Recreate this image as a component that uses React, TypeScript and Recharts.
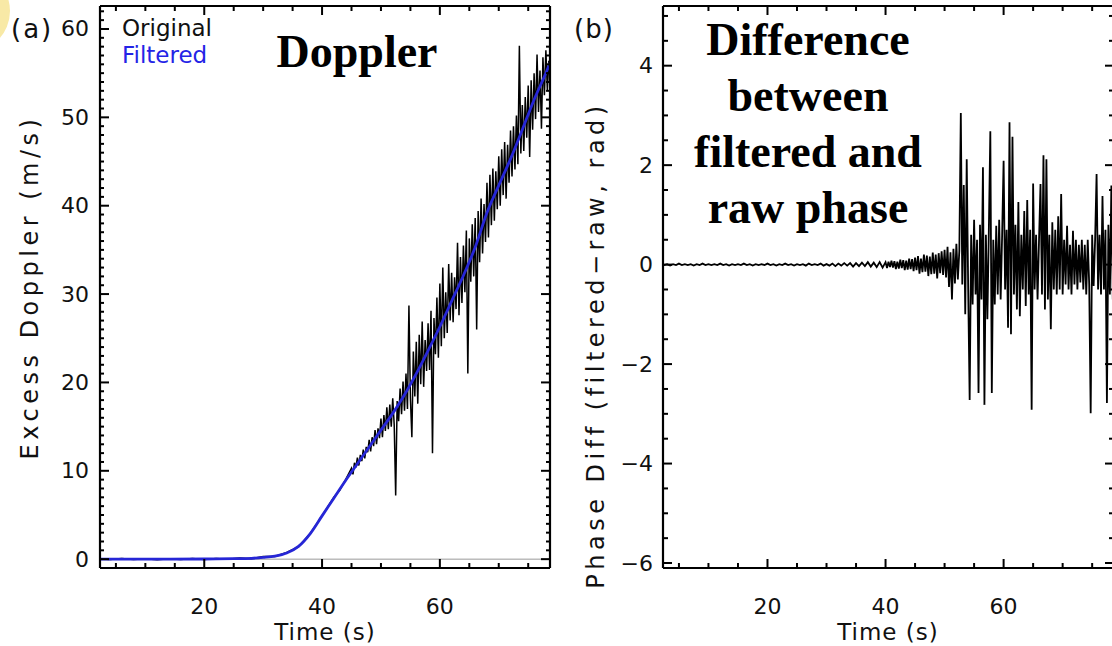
import React from 'react';
import { LineChart, Line, XAxis, YAxis, ReferenceLine } from 'recharts';

const SANS = '"DejaVu Sans", Verdana, sans-serif';
const SERIF = '"Liberation Serif", "Times New Roman", serif';

// ---------- ticks ----------
const timeTicks = [5, 10, 15, 20, 25, 30, 35, 40, 45, 50, 55, 60, 65, 70, 75];
const timeLabels = [20, 40, 60];
const dopplerTicks = [
  0, 1, 2, 3, 4, 5, 6, 7, 8, 9, 10, 11, 12, 13, 14, 15, 16, 17, 18, 19, 20,
  21, 22, 23, 24, 25, 26, 27, 28, 29, 30, 31, 32, 33, 34, 35, 36, 37, 38, 39, 40,
  41, 42, 43, 44, 45, 46, 47, 48, 49, 50, 51, 52, 53, 54, 55, 56, 57, 58, 59, 60, 61, 62,
];
const dopplerLabels = [0, 10, 20, 30, 40, 50, 60];
const phaseTicks = [
  -6, -5.5, -5, -4.5, -4, -3.5, -3, -2.5, -2, -1.5, -1, -0.5, 0,
  0.5, 1, 1.5, 2, 2.5, 3, 3.5, 4, 4.5, 5,
];
const phaseLabels = [-6, -4, -2, 0, 2, 4];

// ---------- panel (a): Doppler ----------
const filteredTime = [2, 10, 20, 25, 28, 30, 32, 34, 36, 38, 40, 42, 44, 46, 48, 50, 52, 54, 56, 58, 60, 62, 64, 66, 68, 70, 72, 74, 76, 78, 79];
const filteredDoppler = [0, 0, 0.02, 0.05, 0.1, 0.2, 0.35, 0.7, 1.45, 2.9, 4.9, 6.9, 8.9, 10.8, 12.7, 14.6, 16.5, 18.6, 21.0, 23.6, 26.3, 29.2, 32.1, 35.3, 39.2, 42.3, 45.3, 48.6, 52.0, 55.0, 56.6];

const originalEarlyTime = [2, 4, 6, 8, 10, 12, 14, 16, 18, 20, 22, 24, 26, 28, 30, 32, 34, 36, 38, 40, 42, 43, 44];
const originalEarlyDoppler = [0.05, -0.05, 0.08, -0.04, 0.06, -0.07, 0.05, -0.05, 0.07, -0.04, 0.08, 0.0, 0.12, 0.05, 0.3, 0.3, 0.75, 1.4, 2.9, 4.9, 7.0, 7.8, 9.0];

const originalFineStart = 45;
const fineStep = 0.25;
const originalFineDoppler = [
  10.3, 9.6, 10.9, 10.4,
  11.5, 10.6, 11.8, 11.1,
  12.4, 11.4, 12.7, 12.1,
  13.5, 12.2, 13.8, 12.8,
  14.6, 13.0, 14.8, 13.7,
  15.9, 13.8, 16.3, 14.5,
  17.2, 14.7, 17.5, 15.0,
  18.2, 15.2, 7.2, 17.9,
  15.6, 19.3, 16.4, 20.1,
  16.8, 21.0, 17.0, 28.7,
  18.2, 13.8, 23.5, 18.4,
  24.6, 17.6, 25.4, 19.8,
  26.9, 19.5, 24.8, 21.3,
  26.7, 21.4, 28.1, 12.0,
  27.3, 23.2, 29.6, 22.8,
  31.2, 24.1, 33.0, 25.0,
  30.2, 25.6, 33.4, 27.0,
  32.4, 26.8, 31.9, 28.3,
  35.8, 27.6, 34.2, 29.0,
  35.5, 30.2, 37.2, 21.0,
  36.3, 31.4, 37.9, 32.0,
  38.6, 26.0, 39.4, 33.6,
  40.8, 34.6, 40.2, 35.9,
  42.6, 36.4, 43.5, 37.8,
  44.2, 38.3, 43.9, 39.6,
  45.6, 40.0, 46.4, 41.2,
  47.2, 40.8, 46.9, 42.6,
  48.5, 43.3, 49.0, 44.1,
  50.2, 44.7, 58.1, 45.9,
  51.4, 46.2, 52.3, 47.7,
  53.6, 45.5, 54.2, 48.6,
  55.0, 49.8, 57.1, 50.6,
  55.3, 48.7, 56.8, 52.5,
  57.6, 53.1, 56.4, 55.8,
];

// ---------- panel (b): phase difference ----------
const phaseCoarseStart = 2;
const phaseCoarseStep = 0.5;
const phaseCoarse = [
  0.01, -0.01, 0.01, -0.02, 0.01, -0.01, 0.02, -0.01, 0.01, -0.01, 0.01, -0.02, 0.01, -0.01, 0.02, -0.01, 0.01,
  -0.01, 0.01, -0.01, 0.02, -0.01, 0.01, -0.02, 0.01, -0.01, 0.01, -0.01, 0.02, -0.01, 0.01, -0.02, 0.01, -0.01, 0.01, -0.01, 0.02,
  -0.01, 0.01, -0.02, 0.01, -0.01, 0.02, -0.01, 0.01, -0.02, 0.01, -0.01, 0.01, -0.02, 0.02, -0.01, 0.01, -0.01, 0.02, -0.02, 0.01,
  -0.02, 0.02, -0.03, 0.02, -0.02, 0.03, -0.02, 0.03, -0.04, 0.03, -0.03, 0.04, -0.03, 0.05, -0.04, 0.04, -0.05, 0.05, -0.06,
];
const phaseFineStart = 40;
const phaseFine = [
  0.05, -0.07, 0.06, -0.05, 0.08, -0.06, 0.07, -0.09, 0.06, -0.08, 0.1, -0.07, 0.09, -0.11, 0.08, -0.1, 0.12, -0.09, 0.11, -0.13,
  0.14, -0.11, 0.17, -0.18, 0.12, -0.15, 0.2, -0.14, 0.18, -0.23, 0.16, -0.19, 0.24, -0.18, 0.2, -0.28, 0.23, -0.17, 0.27, -0.21,
  0.3, -0.26, 0.36, -0.45, 0.25, -0.7, 0.32, -0.38, 0.42, -0.3, 0.28,
  3.05, -0.4, 1.6, -1.0,
  2.12, -0.5, -2.72, 0.6,
  -0.8, 0.9, -0.6, 0.5,
  -2.58, 0.8, -0.7, 1.96,
  -2.82, 0.6, -1.1, 0.7,
  2.68, -2.58, 0.5, -0.8,
  0.78, -0.6, 0.9, -0.7,
  0.6, 2.09, -0.5, 0.7,
  -1.27, 2.86, -1.4, 2.57,
  -0.6, 0.8, -0.9, 1.26,
  -1.04, 0.6, -0.5, 1.08,
  -0.83, 1.3, -0.6, 0.7,
  -2.92, 1.63, -0.5, 0.6,
  -0.7, 0.5, 1.62, -0.6,
  2.2, -0.9, 2.12, -0.7,
  0.6, -1.3, 0.85, -0.5,
  0.7, -0.6, 0.97, -0.5,
  1.42, -0.6, 0.5, -0.4,
  0.78, -0.5, 0.4, -0.6,
  0.68, -0.4, 0.5, -0.5,
  0.4, -0.36, 0.5, -0.5,
  0.4, -0.6, 0.5, -0.4,
  -2.99, 0.6, -0.43, 0.5,
  1.82, -0.5, 0.6, -0.6,
  1.38, -0.5, 0.7, -2.78,
  0.8, -0.6, 1.59, -0.7,
  0.9,
];

// ---------- assembled series ----------
const filteredData = filteredTime.map((t, i) => ({ t, v: filteredDoppler[i] }));
const originalData = [
  ...originalEarlyTime.map((t, i) => ({ t, v: originalEarlyDoppler[i] })),
  ...originalFineDoppler.map((v, i) => ({ t: originalFineStart + i * fineStep, v })),
];
const phaseData = [
  ...phaseCoarse.map((v, i) => ({ t: phaseCoarseStart + i * phaseCoarseStep, v })),
  ...phaseFine.map((v, i) => ({ t: phaseFineStart + i * fineStep, v })),
];

const TIME_DOMAIN: [number, number] = [2.3, 78.7];
const DOPPLER_DOMAIN: [number, number] = [-1, 62.6];
const PHASE_DOMAIN: [number, number] = [-6.1, 5.2];

const fmt = (v: number) => String(v).replace('-', '\u2212');
const isIn = (arr: number[], v: number) => arr.some((a) => Math.abs(a - v) < 1e-9);

function makeTick(side: string, labels: number[], majorLen: number, minorLen: number, showLabels: boolean, gap = 11) {
  return (props: any) => {
    const { x, y, payload } = props;
    const v = payload.value;
    const major = isIn(labels, v);
    const len = major ? majorLen : minorLen;
    let x2 = x;
    let y2 = y;
    if (side === 'bottom') y2 = y - len;
    if (side === 'top') y2 = y + len;
    if (side === 'left') x2 = x + len;
    if (side === 'right') x2 = x - len;
    let label = null;
    if (showLabels && major) {
      if (side === 'bottom') {
        label = (
          <text x={x} y={y + 38} textAnchor="middle" dominantBaseline="central" fontSize={22} fontFamily={SANS} fill="#111">
            {fmt(v)}
          </text>
        );
      } else if (side === 'left') {
        label = (
          <text x={x - gap} y={y} textAnchor="end" dominantBaseline="central" fontSize={22} fontFamily={SANS} fill="#111">
            {fmt(v)}
          </text>
        );
      }
    }
    return (
      <g>
        <line x1={x} y1={y} x2={x2} y2={y2} stroke="#000" strokeWidth={2} />
        {label}
      </g>
    );
  };
}

const axisLine = { stroke: '#000', strokeWidth: 2.2 };

function txt(style: React.CSSProperties, content: React.ReactNode) {
  return <div style={{ position: 'absolute', whiteSpace: 'nowrap', lineHeight: 1, ...style }}>{content}</div>;
}

export default function App() {
  return (
    <div
      style={{
        position: 'absolute',
        left: 0,
        top: 0,
        width: 1112,
        height: 646,
        overflow: 'hidden',
        background: '#fff',
        fontFamily: SANS,
      }}
    >
      <div
        style={{
          position: 'absolute',
          left: -72,
          top: -30,
          width: 82,
          height: 82,
          borderRadius: '50%',
          background: '#f8e9a6',
        }}
      />

      {/* Panel (a) */}
      <div style={{ position: 'absolute', left: 0, top: 0 }}>
        <LineChart width={560} height={646} margin={{ top: 4, right: 8, bottom: 18, left: 40 }}>
          <XAxis
            xAxisId="b"
            type="number"
            dataKey="t"
            orientation="bottom"
            domain={TIME_DOMAIN}
            allowDataOverflow
            ticks={timeTicks}
            interval={0}
            height={60}
            tickSize={0}
            tickMargin={0}
            tickLine={false}
            axisLine={axisLine}
            tick={makeTick('bottom', timeLabels, 9, 5, true)}
          />
          <XAxis
            xAxisId="t"
            type="number"
            dataKey="t"
            orientation="top"
            domain={TIME_DOMAIN}
            allowDataOverflow
            ticks={timeTicks}
            interval={0}
            height={2}
            tickSize={0}
            tickMargin={0}
            tickLine={false}
            axisLine={axisLine}
            tick={makeTick('top', timeLabels, 9, 5, false)}
          />
          <YAxis
            yAxisId="l"
            type="number"
            orientation="left"
            domain={DOPPLER_DOMAIN}
            allowDataOverflow
            ticks={dopplerTicks}
            interval={0}
            width={60}
            tickSize={0}
            tickMargin={0}
            tickLine={false}
            axisLine={axisLine}
            tick={makeTick('left', dopplerLabels, 9, 4, true, 11)}
          />
          <YAxis
            yAxisId="r"
            type="number"
            orientation="right"
            domain={DOPPLER_DOMAIN}
            allowDataOverflow
            ticks={dopplerTicks}
            interval={0}
            width={2}
            tickSize={0}
            tickMargin={0}
            tickLine={false}
            axisLine={axisLine}
            tick={makeTick('right', dopplerLabels, 9, 4, false)}
          />
          <ReferenceLine xAxisId="b" yAxisId="l" y={0} stroke="#999" strokeWidth={1} />
          <Line
            xAxisId="b"
            yAxisId="l"
            data={originalData}
            dataKey="v"
            type="linear"
            stroke="#000"
            strokeWidth={1.5}
            dot={false}
            activeDot={false}
            isAnimationActive={false}
          />
          <Line
            xAxisId="b"
            yAxisId="l"
            data={filteredData}
            dataKey="v"
            type="monotone"
            stroke="#2626d6"
            strokeWidth={2.8}
            dot={false}
            activeDot={false}
            isAnimationActive={false}
          />
        </LineChart>
      </div>

      {/* Panel (b) */}
      <div style={{ position: 'absolute', left: 560, top: 0 }}>
        <LineChart width={600} height={646} margin={{ top: 4, right: 44, bottom: 18, left: 43 }}>
          <XAxis
            xAxisId="b"
            type="number"
            dataKey="t"
            orientation="bottom"
            domain={TIME_DOMAIN}
            allowDataOverflow
            ticks={timeTicks}
            interval={0}
            height={60}
            tickSize={0}
            tickMargin={0}
            tickLine={false}
            axisLine={axisLine}
            tick={makeTick('bottom', timeLabels, 9, 5, true)}
          />
          <XAxis
            xAxisId="t"
            type="number"
            dataKey="t"
            orientation="top"
            domain={TIME_DOMAIN}
            allowDataOverflow
            ticks={timeTicks}
            interval={0}
            height={2}
            tickSize={0}
            tickMargin={0}
            tickLine={false}
            axisLine={axisLine}
            tick={makeTick('top', timeLabels, 9, 5, false)}
          />
          <YAxis
            yAxisId="l"
            type="number"
            orientation="left"
            domain={PHASE_DOMAIN}
            allowDataOverflow
            ticks={phaseTicks}
            interval={0}
            width={60}
            tickSize={0}
            tickMargin={0}
            tickLine={false}
            axisLine={axisLine}
            tick={makeTick('left', phaseLabels, 9, 5, true, 10)}
          />
          <YAxis
            yAxisId="r"
            type="number"
            orientation="right"
            domain={PHASE_DOMAIN}
            allowDataOverflow
            ticks={phaseTicks}
            interval={0}
            width={2}
            tickSize={0}
            tickMargin={0}
            tickLine={false}
            axisLine={axisLine}
            tick={makeTick('right', phaseLabels, 9, 5, false)}
          />
          <Line
            xAxisId="b"
            yAxisId="l"
            data={phaseData}
            dataKey="v"
            type="linear"
            stroke="#000"
            strokeWidth={1.8}
            dot={false}
            activeDot={false}
            isAnimationActive={false}
          />
        </LineChart>
      </div>

      {/* Text overlays */}
      {txt({ left: 11, top: 16, fontSize: 26, letterSpacing: 2, color: '#111' }, '(a)')}
      {txt({ left: 574, top: 16, fontSize: 26, letterSpacing: 1, color: '#111' }, '(b)')}
      {txt({ left: 122, top: 17, fontSize: 23, color: '#111' }, 'Original')}
      {txt({ left: 122, top: 44, fontSize: 23, color: '#2424e6' }, 'Filtered')}
      {txt(
        { left: 357, top: 29, fontSize: 46, fontFamily: SERIF, fontWeight: 'bold', transform: 'translateX(-50%)', color: '#000' },
        'Doppler'
      )}
      <div
        style={{
          position: 'absolute',
          left: 808,
          top: 12,
          transform: 'translateX(-50%)',
          fontFamily: SERIF,
          fontWeight: 'bold',
          fontSize: 46,
          lineHeight: '56px',
          textAlign: 'center',
          whiteSpace: 'nowrap',
          color: '#000',
        }}
      >
        Difference
        <br />
        between
        <br />
        filtered and
        <br />
        raw phase
      </div>
      {txt({ left: 325, top: 632, fontSize: 23, letterSpacing: 1, transform: 'translate(-50%,-50%)', color: '#111' }, 'Time (s)')}
      {txt({ left: 888, top: 632, fontSize: 23, letterSpacing: 1, transform: 'translate(-50%,-50%)', color: '#111' }, 'Time (s)')}
      {txt(
        { left: 30, top: 287, fontSize: 24, letterSpacing: 4.5, transform: 'translate(-50%,-50%) rotate(-90deg)', color: '#111' },
        'Excess Doppler (m/s)'
      )}
      {txt(
        { left: 596, top: 345, fontSize: 24, letterSpacing: 4.5, transform: 'translate(-50%,-50%) rotate(-90deg)', color: '#111' },
        'Phase Diff (filtered\u2212raw, rad)'
      )}
    </div>
  );
}
